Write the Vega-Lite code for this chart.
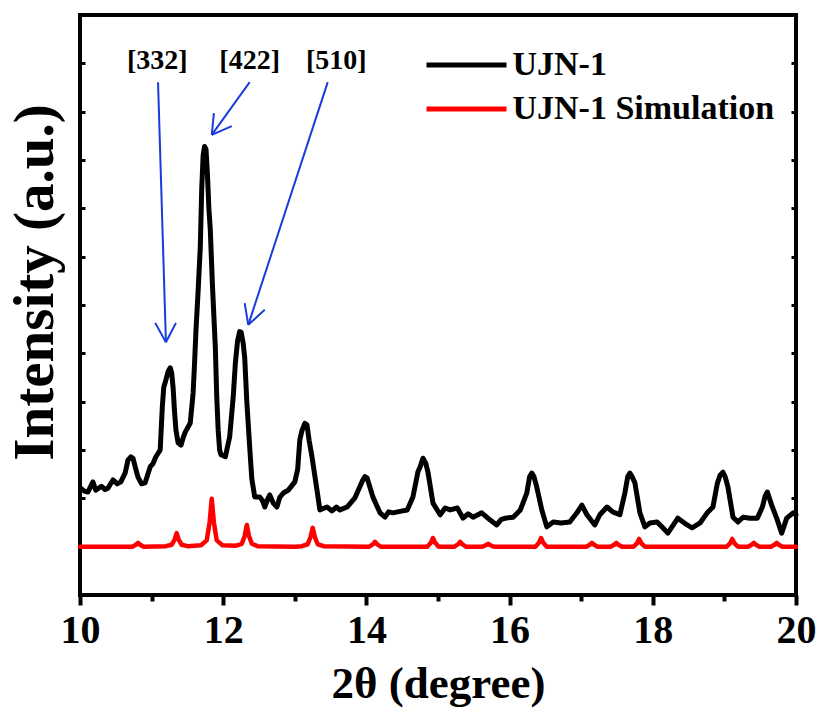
{
  "$schema": "https://vega.github.io/schema/vega-lite/v6.json",
  "width": 716,
  "height": 580,
  "autosize": {"type": "none"},
  "padding": {"left": 80, "top": 15, "right": 26, "bottom": 116},
  "background": "white",
  "config": {
    "view": {"stroke": "black", "strokeWidth": 4},
    "font": "Liberation Serif"
  },
  "datasets": {
    "exp": [
      {"series":"UJN-1","theta":10.01,"intensity":2.21},{"series":"UJN-1","theta":10.06,"intensity":2.15},{"series":"UJN-1","theta":10.11,"intensity":2.13},{"series":"UJN-1","theta":10.18,"intensity":2.34},{"series":"UJN-1","theta":10.22,"intensity":2.17},{"series":"UJN-1","theta":10.30,"intensity":2.25},{"series":"UJN-1","theta":10.35,"intensity":2.18},{"series":"UJN-1","theta":10.39,"intensity":2.21},{"series":"UJN-1","theta":10.46,"intensity":2.38},{"series":"UJN-1","theta":10.52,"intensity":2.30},{"series":"UJN-1","theta":10.57,"intensity":2.34},{"series":"UJN-1","theta":10.63,"intensity":2.52},{"series":"UJN-1","theta":10.67,"intensity":2.79},{"series":"UJN-1","theta":10.71,"intensity":2.86},{"series":"UJN-1","theta":10.74,"intensity":2.83},{"series":"UJN-1","theta":10.78,"intensity":2.60},{"series":"UJN-1","theta":10.81,"intensity":2.44},{"series":"UJN-1","theta":10.86,"intensity":2.30},{"series":"UJN-1","theta":10.91,"intensity":2.32},{"series":"UJN-1","theta":10.98,"intensity":2.65},{"series":"UJN-1","theta":11.02,"intensity":2.72},{"series":"UJN-1","theta":11.06,"intensity":2.86},{"series":"UJN-1","theta":11.12,"intensity":3.00},{"series":"UJN-1","theta":11.15,"intensity":3.90},{"series":"UJN-1","theta":11.17,"intensity":4.30},{"series":"UJN-1","theta":11.20,"intensity":4.45},{"series":"UJN-1","theta":11.23,"intensity":4.62},{"series":"UJN-1","theta":11.26,"intensity":4.70},{"series":"UJN-1","theta":11.28,"intensity":4.60},{"series":"UJN-1","theta":11.30,"intensity":4.30},{"series":"UJN-1","theta":11.32,"intensity":3.80},{"series":"UJN-1","theta":11.34,"intensity":3.41},{"series":"UJN-1","theta":11.37,"intensity":3.15},{"series":"UJN-1","theta":11.41,"intensity":3.10},{"series":"UJN-1","theta":11.44,"intensity":3.25},{"series":"UJN-1","theta":11.47,"intensity":3.37},{"series":"UJN-1","theta":11.54,"intensity":3.56},{"series":"UJN-1","theta":11.58,"intensity":4.18},{"series":"UJN-1","theta":11.60,"intensity":4.80},{"series":"UJN-1","theta":11.62,"intensity":5.48},{"series":"UJN-1","theta":11.65,"intensity":6.30},{"series":"UJN-1","theta":11.68,"intensity":7.20},{"series":"UJN-1","theta":11.70,"intensity":8.40},{"series":"UJN-1","theta":11.72,"intensity":9.10},{"series":"UJN-1","theta":11.74,"intensity":9.28},{"series":"UJN-1","theta":11.76,"intensity":9.22},{"series":"UJN-1","theta":11.78,"intensity":8.70},{"series":"UJN-1","theta":11.80,"intensity":8.00},{"series":"UJN-1","theta":11.82,"intensity":7.55},{"series":"UJN-1","theta":11.85,"intensity":6.40},{"series":"UJN-1","theta":11.89,"intensity":5.13},{"series":"UJN-1","theta":11.91,"intensity":4.10},{"series":"UJN-1","theta":11.93,"intensity":3.41},{"series":"UJN-1","theta":11.95,"intensity":3.00},{"series":"UJN-1","theta":11.97,"intensity":2.90},{"series":"UJN-1","theta":12.03,"intensity":2.86},{"series":"UJN-1","theta":12.09,"intensity":3.27},{"series":"UJN-1","theta":12.14,"intensity":4.10},{"series":"UJN-1","theta":12.17,"intensity":4.80},{"series":"UJN-1","theta":12.20,"intensity":5.25},{"series":"UJN-1","theta":12.23,"intensity":5.45},{"series":"UJN-1","theta":12.25,"intensity":5.44},{"series":"UJN-1","theta":12.28,"intensity":5.20},{"series":"UJN-1","theta":12.30,"intensity":4.92},{"series":"UJN-1","theta":12.33,"intensity":4.00},{"series":"UJN-1","theta":12.37,"intensity":3.06},{"series":"UJN-1","theta":12.40,"intensity":2.40},{"series":"UJN-1","theta":12.44,"intensity":2.03},{"series":"UJN-1","theta":12.51,"intensity":2.03},{"series":"UJN-1","theta":12.55,"intensity":1.95},{"series":"UJN-1","theta":12.58,"intensity":1.82},{"series":"UJN-1","theta":12.62,"intensity":1.98},{"series":"UJN-1","theta":12.65,"intensity":2.07},{"series":"UJN-1","theta":12.70,"intensity":1.90},{"series":"UJN-1","theta":12.75,"intensity":1.82},{"series":"UJN-1","theta":12.79,"intensity":2.02},{"series":"UJN-1","theta":12.84,"intensity":2.11},{"series":"UJN-1","theta":12.91,"intensity":2.17},{"series":"UJN-1","theta":13.00,"intensity":2.34},{"series":"UJN-1","theta":13.04,"intensity":2.60},{"series":"UJN-1","theta":13.07,"intensity":3.21},{"series":"UJN-1","theta":13.10,"intensity":3.40},{"series":"UJN-1","theta":13.14,"intensity":3.55},{"series":"UJN-1","theta":13.17,"intensity":3.52},{"series":"UJN-1","theta":13.20,"intensity":3.20},{"series":"UJN-1","theta":13.24,"intensity":2.86},{"series":"UJN-1","theta":13.31,"intensity":2.17},{"series":"UJN-1","theta":13.35,"intensity":1.76},{"series":"UJN-1","theta":13.45,"intensity":1.82},{"series":"UJN-1","theta":13.52,"intensity":1.74},{"series":"UJN-1","theta":13.58,"intensity":1.82},{"series":"UJN-1","theta":13.63,"intensity":1.76},{"series":"UJN-1","theta":13.73,"intensity":1.82},{"series":"UJN-1","theta":13.84,"intensity":2.01},{"series":"UJN-1","theta":13.95,"intensity":2.38},{"series":"UJN-1","theta":13.98,"intensity":2.45},{"series":"UJN-1","theta":14.01,"intensity":2.42},{"series":"UJN-1","theta":14.09,"intensity":2.03},{"series":"UJN-1","theta":14.19,"intensity":1.70},{"series":"UJN-1","theta":14.26,"intensity":1.61},{"series":"UJN-1","theta":14.31,"intensity":1.72},{"series":"UJN-1","theta":14.37,"intensity":1.70},{"series":"UJN-1","theta":14.47,"intensity":1.73},{"series":"UJN-1","theta":14.57,"intensity":1.76},{"series":"UJN-1","theta":14.65,"intensity":2.03},{"series":"UJN-1","theta":14.72,"intensity":2.55},{"series":"UJN-1","theta":14.75,"intensity":2.65},{"series":"UJN-1","theta":14.79,"intensity":2.83},{"series":"UJN-1","theta":14.83,"intensity":2.72},{"series":"UJN-1","theta":14.86,"intensity":2.54},{"series":"UJN-1","theta":14.93,"intensity":1.90},{"series":"UJN-1","theta":15.03,"intensity":1.66},{"series":"UJN-1","theta":15.10,"intensity":1.80},{"series":"UJN-1","theta":15.17,"intensity":1.76},{"series":"UJN-1","theta":15.27,"intensity":1.80},{"series":"UJN-1","theta":15.35,"intensity":1.59},{"series":"UJN-1","theta":15.42,"intensity":1.68},{"series":"UJN-1","theta":15.49,"intensity":1.61},{"series":"UJN-1","theta":15.61,"intensity":1.70},{"series":"UJN-1","theta":15.73,"intensity":1.55},{"series":"UJN-1","theta":15.82,"intensity":1.45},{"series":"UJN-1","theta":15.88,"intensity":1.56},{"series":"UJN-1","theta":15.94,"intensity":1.59},{"series":"UJN-1","theta":16.05,"intensity":1.61},{"series":"UJN-1","theta":16.15,"intensity":1.76},{"series":"UJN-1","theta":16.24,"intensity":2.11},{"series":"UJN-1","theta":16.28,"intensity":2.45},{"series":"UJN-1","theta":16.31,"intensity":2.52},{"series":"UJN-1","theta":16.34,"intensity":2.45},{"series":"UJN-1","theta":16.38,"intensity":2.23},{"series":"UJN-1","theta":16.45,"intensity":1.76},{"series":"UJN-1","theta":16.52,"intensity":1.41},{"series":"UJN-1","theta":16.61,"intensity":1.51},{"series":"UJN-1","theta":16.72,"intensity":1.49},{"series":"UJN-1","theta":16.84,"intensity":1.51},{"series":"UJN-1","theta":16.94,"intensity":1.70},{"series":"UJN-1","theta":17.01,"intensity":1.86},{"series":"UJN-1","theta":17.08,"intensity":1.66},{"series":"UJN-1","theta":17.19,"intensity":1.45},{"series":"UJN-1","theta":17.26,"intensity":1.66},{"series":"UJN-1","theta":17.36,"intensity":1.82},{"series":"UJN-1","theta":17.44,"intensity":1.72},{"series":"UJN-1","theta":17.54,"intensity":1.66},{"series":"UJN-1","theta":17.61,"intensity":2.11},{"series":"UJN-1","theta":17.65,"intensity":2.45},{"series":"UJN-1","theta":17.68,"intensity":2.52},{"series":"UJN-1","theta":17.71,"intensity":2.45},{"series":"UJN-1","theta":17.75,"intensity":2.32},{"series":"UJN-1","theta":17.82,"intensity":1.70},{"series":"UJN-1","theta":17.89,"intensity":1.41},{"series":"UJN-1","theta":17.96,"intensity":1.49},{"series":"UJN-1","theta":18.06,"intensity":1.51},{"series":"UJN-1","theta":18.14,"intensity":1.39},{"series":"UJN-1","theta":18.21,"intensity":1.28},{"series":"UJN-1","theta":18.35,"intensity":1.59},{"series":"UJN-1","theta":18.48,"intensity":1.45},{"series":"UJN-1","theta":18.55,"intensity":1.39},{"series":"UJN-1","theta":18.66,"intensity":1.49},{"series":"UJN-1","theta":18.76,"intensity":1.70},{"series":"UJN-1","theta":18.84,"intensity":1.82},{"series":"UJN-1","theta":18.90,"intensity":2.30},{"series":"UJN-1","theta":18.94,"intensity":2.48},{"series":"UJN-1","theta":18.98,"intensity":2.54},{"series":"UJN-1","theta":19.01,"intensity":2.45},{"series":"UJN-1","theta":19.05,"intensity":2.23},{"series":"UJN-1","theta":19.12,"intensity":1.61},{"series":"UJN-1","theta":19.19,"intensity":1.51},{"series":"UJN-1","theta":19.26,"intensity":1.61},{"series":"UJN-1","theta":19.36,"intensity":1.59},{"series":"UJN-1","theta":19.46,"intensity":1.59},{"series":"UJN-1","theta":19.53,"intensity":1.82},{"series":"UJN-1","theta":19.57,"intensity":2.05},{"series":"UJN-1","theta":19.60,"intensity":2.13},{"series":"UJN-1","theta":19.66,"intensity":1.86},{"series":"UJN-1","theta":19.73,"intensity":1.59},{"series":"UJN-1","theta":19.80,"intensity":1.28},{"series":"UJN-1","theta":19.87,"intensity":1.59},{"series":"UJN-1","theta":19.96,"intensity":1.70},{"series":"UJN-1","theta":20.00,"intensity":1.66}
    ],
    "sim": [
      {"series":"UJN-1 Simulation","theta":10.00,"intensity":1.00},
      {"series":"UJN-1 Simulation","theta":10.73,"intensity":1.00},{"series":"UJN-1 Simulation","theta":10.78,"intensity":1.04},{"series":"UJN-1 Simulation","theta":10.81,"intensity":1.08},{"series":"UJN-1 Simulation","theta":10.84,"intensity":1.04},{"series":"UJN-1 Simulation","theta":10.89,"intensity":1.00},
      {"series":"UJN-1 Simulation","theta":11.20,"intensity":1.01},{"series":"UJN-1 Simulation","theta":11.28,"intensity":1.04},{"series":"UJN-1 Simulation","theta":11.32,"intensity":1.14},{"series":"UJN-1 Simulation","theta":11.35,"intensity":1.28},{"series":"UJN-1 Simulation","theta":11.38,"intensity":1.14},{"series":"UJN-1 Simulation","theta":11.42,"intensity":1.04},{"series":"UJN-1 Simulation","theta":11.50,"intensity":1.01},
      {"series":"UJN-1 Simulation","theta":11.69,"intensity":1.03},{"series":"UJN-1 Simulation","theta":11.77,"intensity":1.13},{"series":"UJN-1 Simulation","theta":11.81,"intensity":1.50},{"series":"UJN-1 Simulation","theta":11.84,"intensity":1.99},{"series":"UJN-1 Simulation","theta":11.87,"intensity":1.50},{"series":"UJN-1 Simulation","theta":11.91,"intensity":1.13},{"series":"UJN-1 Simulation","theta":11.99,"intensity":1.03},
      {"series":"UJN-1 Simulation","theta":12.18,"intensity":1.02},{"series":"UJN-1 Simulation","theta":12.26,"intensity":1.06},{"series":"UJN-1 Simulation","theta":12.30,"intensity":1.22},{"series":"UJN-1 Simulation","theta":12.33,"intensity":1.45},{"series":"UJN-1 Simulation","theta":12.36,"intensity":1.22},{"series":"UJN-1 Simulation","theta":12.40,"intensity":1.06},{"series":"UJN-1 Simulation","theta":12.48,"intensity":1.01},
      {"series":"UJN-1 Simulation","theta":13.00,"intensity":1.00},
      {"series":"UJN-1 Simulation","theta":13.10,"intensity":1.01},{"series":"UJN-1 Simulation","theta":13.18,"intensity":1.05},{"series":"UJN-1 Simulation","theta":13.22,"intensity":1.20},{"series":"UJN-1 Simulation","theta":13.25,"intensity":1.39},{"series":"UJN-1 Simulation","theta":13.28,"intensity":1.20},{"series":"UJN-1 Simulation","theta":13.32,"intensity":1.05},{"series":"UJN-1 Simulation","theta":13.40,"intensity":1.01},
      {"series":"UJN-1 Simulation","theta":14.04,"intensity":1.00},{"series":"UJN-1 Simulation","theta":14.09,"intensity":1.05},{"series":"UJN-1 Simulation","theta":14.12,"intensity":1.10},{"series":"UJN-1 Simulation","theta":14.15,"intensity":1.05},{"series":"UJN-1 Simulation","theta":14.20,"intensity":1.00},
      {"series":"UJN-1 Simulation","theta":14.85,"intensity":1.00},{"series":"UJN-1 Simulation","theta":14.90,"intensity":1.08},{"series":"UJN-1 Simulation","theta":14.93,"intensity":1.18},{"series":"UJN-1 Simulation","theta":14.96,"intensity":1.08},{"series":"UJN-1 Simulation","theta":15.01,"intensity":1.00},
      {"series":"UJN-1 Simulation","theta":15.23,"intensity":1.00},{"series":"UJN-1 Simulation","theta":15.28,"intensity":1.05},{"series":"UJN-1 Simulation","theta":15.31,"intensity":1.10},{"series":"UJN-1 Simulation","theta":15.34,"intensity":1.05},{"series":"UJN-1 Simulation","theta":15.39,"intensity":1.00},
      {"series":"UJN-1 Simulation","theta":15.62,"intensity":1.00},{"series":"UJN-1 Simulation","theta":15.67,"intensity":1.03},{"series":"UJN-1 Simulation","theta":15.70,"intensity":1.06},{"series":"UJN-1 Simulation","theta":15.73,"intensity":1.03},{"series":"UJN-1 Simulation","theta":15.78,"intensity":1.00},
      {"series":"UJN-1 Simulation","theta":16.36,"intensity":1.00},{"series":"UJN-1 Simulation","theta":16.41,"intensity":1.08},{"series":"UJN-1 Simulation","theta":16.44,"intensity":1.18},{"series":"UJN-1 Simulation","theta":16.47,"intensity":1.08},{"series":"UJN-1 Simulation","theta":16.52,"intensity":1.00},
      {"series":"UJN-1 Simulation","theta":17.07,"intensity":1.00},{"series":"UJN-1 Simulation","theta":17.12,"intensity":1.04},{"series":"UJN-1 Simulation","theta":17.15,"intensity":1.08},{"series":"UJN-1 Simulation","theta":17.18,"intensity":1.04},{"series":"UJN-1 Simulation","theta":17.23,"intensity":1.00},
      {"series":"UJN-1 Simulation","theta":17.41,"intensity":1.00},{"series":"UJN-1 Simulation","theta":17.46,"intensity":1.04},{"series":"UJN-1 Simulation","theta":17.49,"intensity":1.08},{"series":"UJN-1 Simulation","theta":17.52,"intensity":1.04},{"series":"UJN-1 Simulation","theta":17.57,"intensity":1.00},
      {"series":"UJN-1 Simulation","theta":17.73,"intensity":1.00},{"series":"UJN-1 Simulation","theta":17.78,"intensity":1.07},{"series":"UJN-1 Simulation","theta":17.81,"intensity":1.16},{"series":"UJN-1 Simulation","theta":17.84,"intensity":1.07},{"series":"UJN-1 Simulation","theta":17.89,"intensity":1.00},
      {"series":"UJN-1 Simulation","theta":19.03,"intensity":1.00},{"series":"UJN-1 Simulation","theta":19.08,"intensity":1.07},{"series":"UJN-1 Simulation","theta":19.11,"intensity":1.16},{"series":"UJN-1 Simulation","theta":19.14,"intensity":1.07},{"series":"UJN-1 Simulation","theta":19.19,"intensity":1.00},
      {"series":"UJN-1 Simulation","theta":19.33,"intensity":1.00},{"series":"UJN-1 Simulation","theta":19.38,"intensity":1.04},{"series":"UJN-1 Simulation","theta":19.41,"intensity":1.08},{"series":"UJN-1 Simulation","theta":19.44,"intensity":1.04},{"series":"UJN-1 Simulation","theta":19.49,"intensity":1.00},
      {"series":"UJN-1 Simulation","theta":19.65,"intensity":1.00},{"series":"UJN-1 Simulation","theta":19.70,"intensity":1.04},{"series":"UJN-1 Simulation","theta":19.73,"intensity":1.08},{"series":"UJN-1 Simulation","theta":19.76,"intensity":1.04},{"series":"UJN-1 Simulation","theta":19.81,"intensity":1.00},
      {"series":"UJN-1 Simulation","theta":20.00,"intensity":1.00}
    ],
    "arrows": [
      {"x1":11.09,"y1":10.61,"x2":11.20,"y2":5.23},
      {"x1":11.05,"y1":5.63,"x2":11.20,"y2":5.23},
      {"x1":11.34,"y1":5.63,"x2":11.20,"y2":5.23},
      {"x1":12.37,"y1":10.61,"x2":11.84,"y2":9.52},
      {"x1":11.87,"y1":9.97,"x2":11.84,"y2":9.52},
      {"x1":12.12,"y1":9.70,"x2":11.84,"y2":9.52},
      {"x1":13.46,"y1":10.61,"x2":12.35,"y2":5.59},
      {"x1":12.30,"y1":6.04,"x2":12.35,"y2":5.59},
      {"x1":12.58,"y1":5.90,"x2":12.35,"y2":5.59}
    ],
    "labels": [
      {"label":"[332]","x":11.08,"y":11.05},
      {"label":"[422]","x":12.37,"y":11.05},
      {"label":"[510]","x":13.58,"y":11.05}
    ]
  },
  "layer": [
    {
      "data": {"name": "exp"},
      "mark": {"type": "line", "strokeWidth": 5, "strokeJoin": "round", "strokeCap": "round"},
      "encoding": {
        "x": {"field": "theta", "type": "quantitative",
          "scale": {"domain": [10, 20], "nice": false, "zero": false},
          "axis": {"orient": "bottom", "values": [10, 12, 14, 16, 18, 20], "domain": false, "grid": false,
            "tickSize": 10, "tickWidth": 4, "tickColor": "black",
            "labelFont": "Liberation Serif", "labelFontWeight": "bold", "labelFontSize": 40, "labelColor": "black", "labelPadding": 5,
            "labelFlush": false, "labelOverlap": false,
            "title": "2θ (degree)", "titleFont": "Liberation Serif", "titleFontWeight": "bold", "titleFontSize": 45, "titleColor": "black",
            "titleBaseline": "middle", "titleY": 88}},
        "y": {"field": "intensity", "type": "quantitative",
          "scale": {"domain": [0, 12], "nice": false, "zero": false},
          "axis": {"orient": "left", "values": [0,1,2,3,4,5,6,7,8,9,10,11,12], "domain": false, "grid": false,
            "tickSize": -5, "tickWidth": 3, "tickColor": "black", "labels": false,
            "title": "Intensity (a.u.)", "titleFont": "Liberation Serif", "titleFontWeight": "bold", "titleFontSize": 57, "titleColor": "black",
            "titleAngle": -90, "titleBaseline": "middle", "titleAlign": "center", "titleX": -45, "titleY": 267}},
        "color": {"field": "series", "type": "nominal",
          "scale": {"domain": ["UJN-1", "UJN-1 Simulation"], "range": ["#000000", "#ff0000"]},
          "legend": {"orient": "none", "legendX": 369.5, "legendY": 33, "title": null, "padding": 0,
            "symbolType": "M-8,0L8,0", "symbolSize": 100, "symbolStrokeWidth": 5,
            "labelFont": "Liberation Serif", "labelFontWeight": "bold", "labelFontSize": 34, "labelColor": "black",
            "labelOffset": 29, "rowPadding": 10, "labelLimit": 400}}
      }
    },
    {
      "data": {"name": "sim"},
      "mark": {"type": "line", "strokeWidth": 4.5, "strokeJoin": "round", "strokeCap": "round"},
      "encoding": {
        "x": {"field": "theta", "type": "quantitative",
          "axis": {"orient": "bottom", "values": [11, 13, 15, 17, 19], "domain": false, "grid": false,
            "tickSize": 6, "tickWidth": 4, "tickColor": "black", "labels": false, "title": null}},
        "y": {"field": "intensity", "type": "quantitative",
          "axis": {"orient": "right", "values": [0,1,2,3,4,5,6,7,8,9,10,11,12], "domain": false, "grid": false,
            "tickSize": -5, "tickWidth": 3, "tickColor": "black", "labels": false, "title": null}},
        "color": {"field": "series", "type": "nominal"}
      }
    },
    {
      "data": {"name": "arrows"},
      "mark": {"type": "rule", "color": "#1a3cdc", "strokeWidth": 2},
      "encoding": {
        "x": {"field": "x1", "type": "quantitative", "axis": null},
        "y": {"field": "y1", "type": "quantitative", "axis": null},
        "x2": {"field": "x2"},
        "y2": {"field": "y2"}
      }
    },
    {
      "data": {"name": "labels"},
      "mark": {"type": "text", "font": "Liberation Serif", "fontWeight": "bold", "fontSize": 28, "baseline": "middle", "align": "center", "color": "black"},
      "encoding": {
        "x": {"field": "x", "type": "quantitative", "axis": null},
        "y": {"field": "y", "type": "quantitative", "axis": null},
        "text": {"field": "label"}
      }
    }
  ],
  "resolve": {"axis": {"x": "independent", "y": "independent"}}
}
